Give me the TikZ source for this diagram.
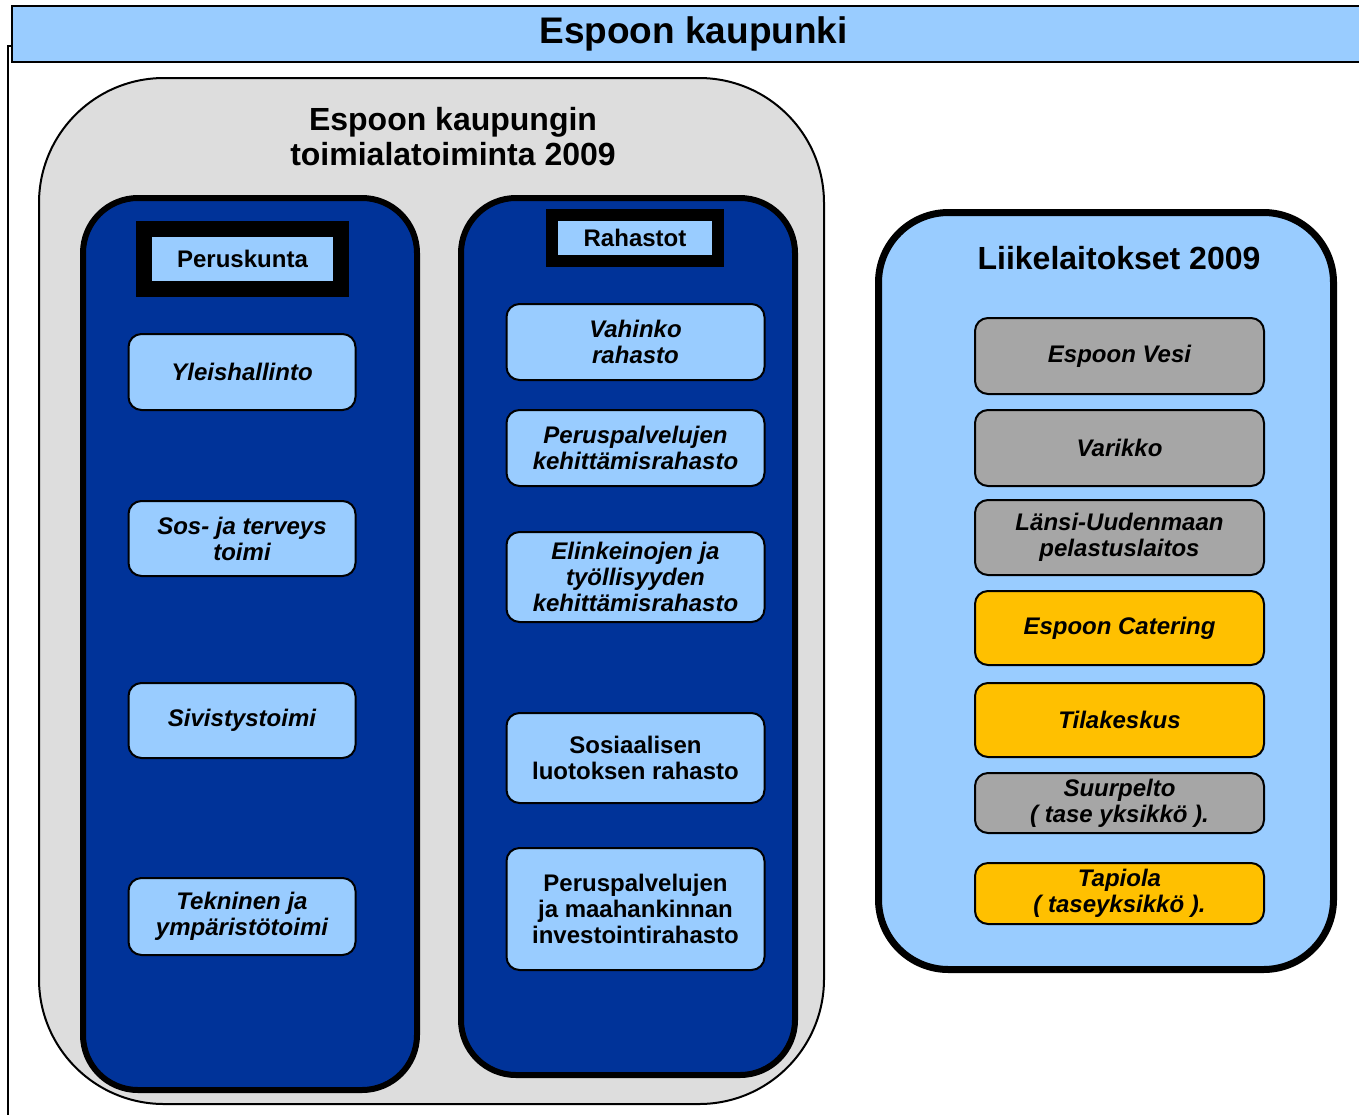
\documentclass[tikz,border=0pt]{standalone}
\usepackage{fontspec}
\setmainfont{Liberation Sans}
\definecolor{lb}{HTML}{99CCFF}
\definecolor{db}{HTML}{003399}
\definecolor{gr}{HTML}{DDDDDD}
\definecolor{gy}{HTML}{A6A6A6}
\definecolor{gd}{HTML}{FFC000}
\begin{document}
\begin{tikzpicture}[x=1pt,y=-1pt,
  every node/.style={inner sep=0pt, outer sep=0pt, align=center, text=black},
  itemfont/.style={font=\fontsize{24}{26}\selectfont\bfseries},
  itbox/.style={draw=black, line width=2pt, rounded corners=13pt, itemfont},
  lbox/.style={itbox, fill=lb, minimum width=227},
  mbox/.style={itbox, fill=lb, minimum width=258},
  rbox/.style={itbox, minimum width=289},
  grey/.style={rbox, fill=gy},
  gold/.style={rbox, fill=gd},
  darkpanel/.style={draw=black, fill=db, line width=6pt, rounded corners=55pt, minimum width=334},
  tagbox/.style={draw=black, fill=lb, itemfont},
  titlefont/.style={font=\fontsize{32}{35}\selectfont\bfseries}
]
\useasboundingbox (0,0) rectangle (1359,1114);
\fill[white] (0,0) rectangle (1359,1114);

% thin frame line at left
\coordinate (fa) at (12,46);
\coordinate (fb) at (8,46);
\coordinate (fc) at (8,1120);
\draw[line width=1.5pt] (fa) -- (fb) -- (fc);

% header
\node[draw=black, fill=lb, line width=2.5pt, minimum width=1363, minimum height=56,
      font=\fontsize{37}{40}\selectfont\bfseries] (hdr) at (693.5,34) {Espoon kaupunki};

% grey container
\node[draw=black, fill=gr, line width=2pt, rounded corners=125pt,
      minimum width=785, minimum height=1026] (toimiala) at (431.5,591) {};
\node[titlefont] (ttl) at (453,137) {Espoon kaupungin\\toimialatoiminta 2009};

% dark panels
\node[darkpanel, minimum height=892] (pkpanel) at (250,644) {};
\node[darkpanel, minimum height=877] (rhpanel) at (628,636.5) {};

% tags
\node[tagbox, line width=16pt, minimum width=197, minimum height=60] (pk) at (242.5,259) {Peruskunta};
\node[tagbox, line width=12pt, minimum width=166, minimum height=46] (rh) at (635,238) {Rahastot};

% left items
\node[lbox, minimum height=76] (yh) at (242,372) {\itshape Yleishallinto};
\node[lbox, minimum height=75] (st) at (242,538.5) {\itshape Sos- ja terveys\\\itshape toimi};
\node[lbox, minimum height=75] (si) at (242,720.5) {\itshape Sivistystoimi};
\node[lbox, minimum height=77] (te) at (242,916.5) {\itshape Tekninen ja\\\itshape ympäristötoimi};

% middle items
\node[mbox, minimum height=76] (va) at (635.5,342) {\itshape Vahinko\\\itshape rahasto};
\node[mbox, minimum height=76] (pp) at (635.5,448) {\itshape Peruspalvelujen\\\itshape kehittämisrahasto};
\node[mbox, minimum height=90] (el) at (635.5,577) {\itshape Elinkeinojen ja\\\itshape työllisyyden\\\itshape kehittämisrahasto};
\node[mbox, minimum height=90] (so) at (635.5,758) {Sosiaalisen\\luotoksen rahasto};
\node[mbox, minimum height=122] (pm) at (635.5,909) {Peruspalvelujen\\ja maahankinnan\\investointirahasto};

% Liikelaitokset panel
\node[draw=black, fill=lb, line width=7pt, rounded corners=70pt,
      minimum width=455, minimum height=757] (liike) at (1106,591) {};
\node[titlefont] (lt) at (1119,258) {Liikelaitokset 2009};

% right items
\node[grey, minimum height=76] (ev) at (1119.5,356) {\itshape Espoon Vesi};
\node[grey, minimum height=76] (vk) at (1119.5,448) {\itshape Varikko};
\node[grey, minimum height=75] (lu) at (1119.5,537.5) {\itshape Länsi-Uudenmaan\\\itshape pelastuslaitos};
\node[gold, minimum height=74] (ec) at (1119.5,628) {\itshape Espoon Catering};
\node[gold, minimum height=74] (tk) at (1119.5,720) {\itshape Tilakeskus};
\node[grey, minimum height=60] (sp) at (1119.5,803) {\itshape Suurpelto\\\itshape ( tase yksikkö ).};
\node[gold, minimum height=61] (tp) at (1119.5,893.5) {\itshape Tapiola\\\itshape ( taseyksikkö ).};
\end{tikzpicture}
\end{document}
